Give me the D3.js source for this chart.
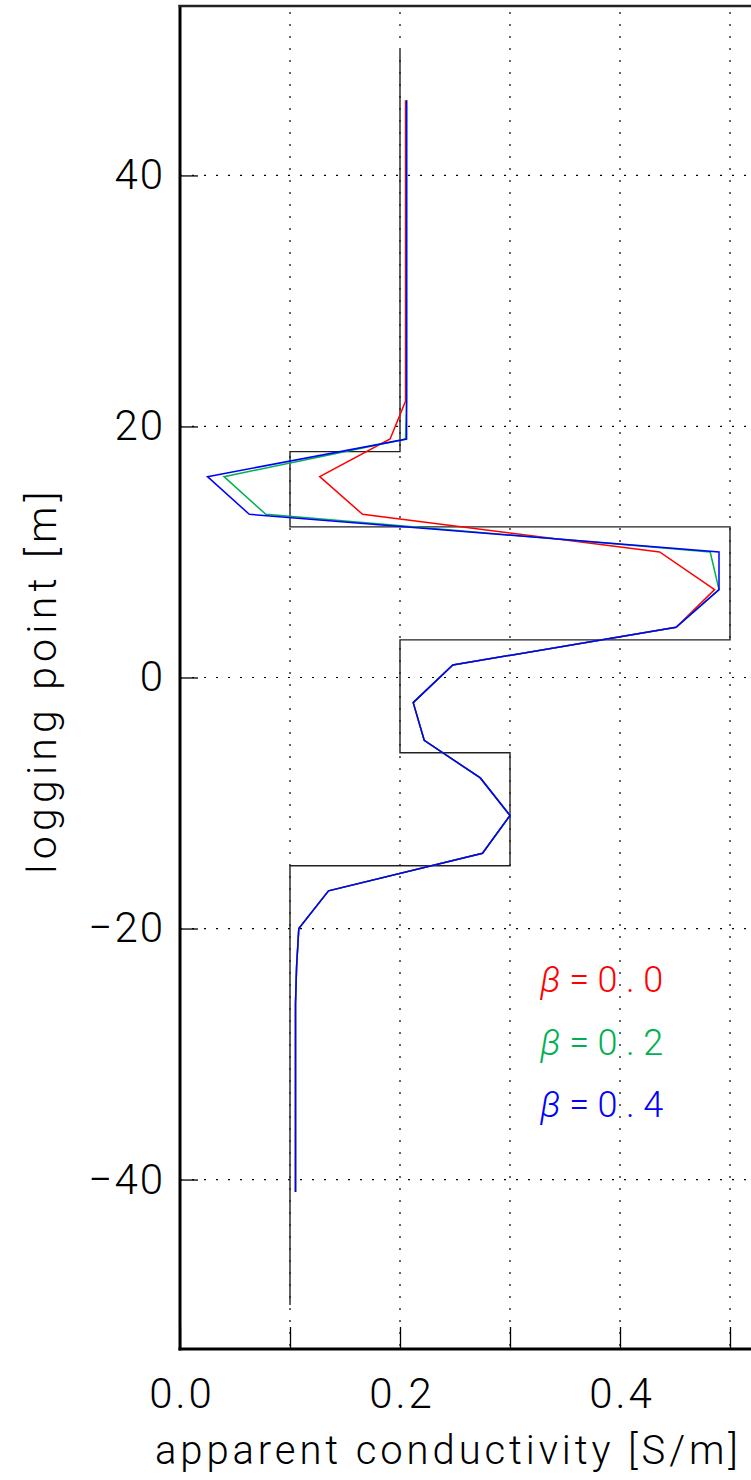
<!DOCTYPE html>
<html>
<head>
<meta charset="utf-8">
<script src="https://cdn.jsdelivr.net/npm/d3@7"></script>
<style>
  html, body { margin: 0; padding: 0; background: #fff; }
  svg { display: block; }
  text { font-family: "Roboto", "Lato", sans-serif; font-weight: 300; fill: #000; }
</style>
</head>
<body>
<svg id="chart" width="751" height="1480"></svg>
<script>
// ---- data ----
const depths = [46, 43, 40, 37, 34, 31, 28, 25, 22, 19, 16, 13, 10, 7, 4, 1, -2, -5, -8, -11, -14, -17, -20, -23, -26, -29, -32, -35, -38, -41];
const beta00 = [0.205, 0.205, 0.205, 0.205, 0.205, 0.205, 0.205, 0.205, 0.205, 0.191, 0.127, 0.166, 0.436, 0.486, 0.451, 0.248, 0.212, 0.222, 0.273, 0.300, 0.275, 0.135, 0.108, 0.106, 0.105, 0.105, 0.105, 0.105, 0.105, 0.105];
const beta02 = [0.206, 0.206, 0.206, 0.206, 0.206, 0.206, 0.206, 0.206, 0.206, 0.205, 0.040, 0.078, 0.482, 0.490, 0.451, 0.248, 0.212, 0.222, 0.273, 0.300, 0.275, 0.135, 0.108, 0.106, 0.105, 0.105, 0.105, 0.105, 0.105, 0.105];
const beta04 = [0.206, 0.206, 0.206, 0.206, 0.206, 0.206, 0.206, 0.206, 0.206, 0.206, 0.025, 0.063, 0.490, 0.490, 0.451, 0.248, 0.212, 0.222, 0.273, 0.300, 0.275, 0.135, 0.108, 0.106, 0.105, 0.105, 0.105, 0.105, 0.105, 0.105];
const layerBounds = [50, 18, 12, 3, -6, -15, -50];
const layerCond = [0.2, 0.1, 0.5, 0.2, 0.3, 0.1];
const seriesLabels = ["0.0", "0.2", "0.4"];
const seriesColors = ["#ff0000", "#00b050", "#0000ff"];
const xTicks = [0, 0.1, 0.2, 0.3, 0.4, 0.5, 0.6];
const xLabelTicks = [0, 0.2, 0.4];
const yTicks = [-40, -20, 0, 20, 40];
const xTitle = "apparent conductivity [S/m]";
const yTitle = "logging point [m]";

// ---- layout ----
const plotLeft = 180, plotTop = 6, plotBottom = 1349;
const svg = d3.select("#chart");
const x = d3.scaleLinear().domain([0, 0.6]).range([plotLeft, plotLeft + 660]);
const y = d3.scaleLinear().domain([-53.5, 53.5]).range([plotBottom, plotTop]);

// grid
const grid = svg.append("g").attr("stroke", "#000").attr("stroke-width", 1.2).attr("stroke-dasharray", "2,10");
grid.selectAll("line.v").data(xTicks.filter(d => d > 0)).join("line").attr("class", "v")
  .attr("x1", d => x(d)).attr("x2", d => x(d)).attr("y1", plotTop + 6).attr("y2", plotBottom);
grid.selectAll("line.h").data(yTicks).join("line").attr("class", "h")
  .attr("x1", plotLeft).attr("x2", 760).attr("y1", d => y(d)).attr("y2", d => y(d));

// axes
const yAxis = d3.axisLeft(y).tickValues(yTicks).tickSize(-18).tickPadding(17).tickFormat(d3.format("d"));
const gy = svg.append("g").attr("transform", `translate(${plotLeft},0)`).call(yAxis);
const xAxis = d3.axisBottom(x).tickValues(xTicks).tickSize(-22).tickPadding(29)
  .tickFormat(d => xLabelTicks.some(v => Math.abs(v - d) < 1e-9) ? d3.format(".1f")(d) : "");
const gx = svg.append("g").attr("transform", `translate(0,${plotBottom})`).call(xAxis);
[gx, gy].forEach(g => {
  g.select(".domain").remove();
  g.selectAll(".tick line").attr("stroke", "#000").attr("stroke-width", 1.3);
  g.selectAll(".tick text").attr("font-size", 42).attr("font-family", "Roboto, Lato, sans-serif").attr("font-weight", 300).attr("fill", "#000");
});
gx.selectAll(".tick text").attr("letter-spacing", 3).attr("dx", 1.5);
gy.selectAll(".tick text").attr("letter-spacing", 2).attr("dx", 2);

// frame
svg.append("line").attr("x1", plotLeft).attr("x2", plotLeft).attr("y1", plotTop - 1).attr("y2", plotBottom + 1.5).attr("stroke", "#000").attr("stroke-width", 3);
svg.append("line").attr("x1", plotLeft - 1.5).attr("x2", 760).attr("y1", plotBottom).attr("y2", plotBottom).attr("stroke", "#000").attr("stroke-width", 3);
svg.append("line").attr("x1", plotLeft - 1.5).attr("x2", 760).attr("y1", plotTop).attr("y2", plotTop).attr("stroke", "#222").attr("stroke-width", 2.5);

// layered model (step profile)
const stepPts = [];
layerCond.forEach((c, i) => { stepPts.push([c, layerBounds[i]]); stepPts.push([c, layerBounds[i + 1]]); });
const line = d3.line().x(d => x(d[0])).y(d => y(d[1]));
svg.append("path").attr("d", line(stepPts)).attr("fill", "none").attr("stroke", "#222").attr("stroke-width", 1.4);

// series
[beta00, beta02, beta04].forEach((vals, i) => {
  const pts = vals.map((v, j) => [v, depths[j]]);
  svg.append("path").attr("d", line(pts)).attr("fill", "none")
    .attr("stroke", seriesColors[i]).attr("stroke-width", 1.5).attr("stroke-linejoin", "miter");
});

// legend
seriesLabels.forEach((lab, i) => {
  const t = svg.append("text").attr("x", 540).attr("y", 992 + i * 62.5)
    .attr("font-size", 36).attr("letter-spacing", 8.5).style("fill", seriesColors[i]);
  t.append("tspan").attr("font-style", "italic").text("β");
  t.append("tspan").text("=" + lab);
});

// titles
svg.append("text").attr("x", 155).attr("y", 1464).attr("font-size", 40).attr("letter-spacing", 3.9).text(xTitle);
svg.append("text").attr("transform", "translate(56,680) rotate(-90)").attr("text-anchor", "middle")
  .attr("font-size", 41).attr("letter-spacing", 5.2).text(yTitle);
</script>
</body>
</html>
